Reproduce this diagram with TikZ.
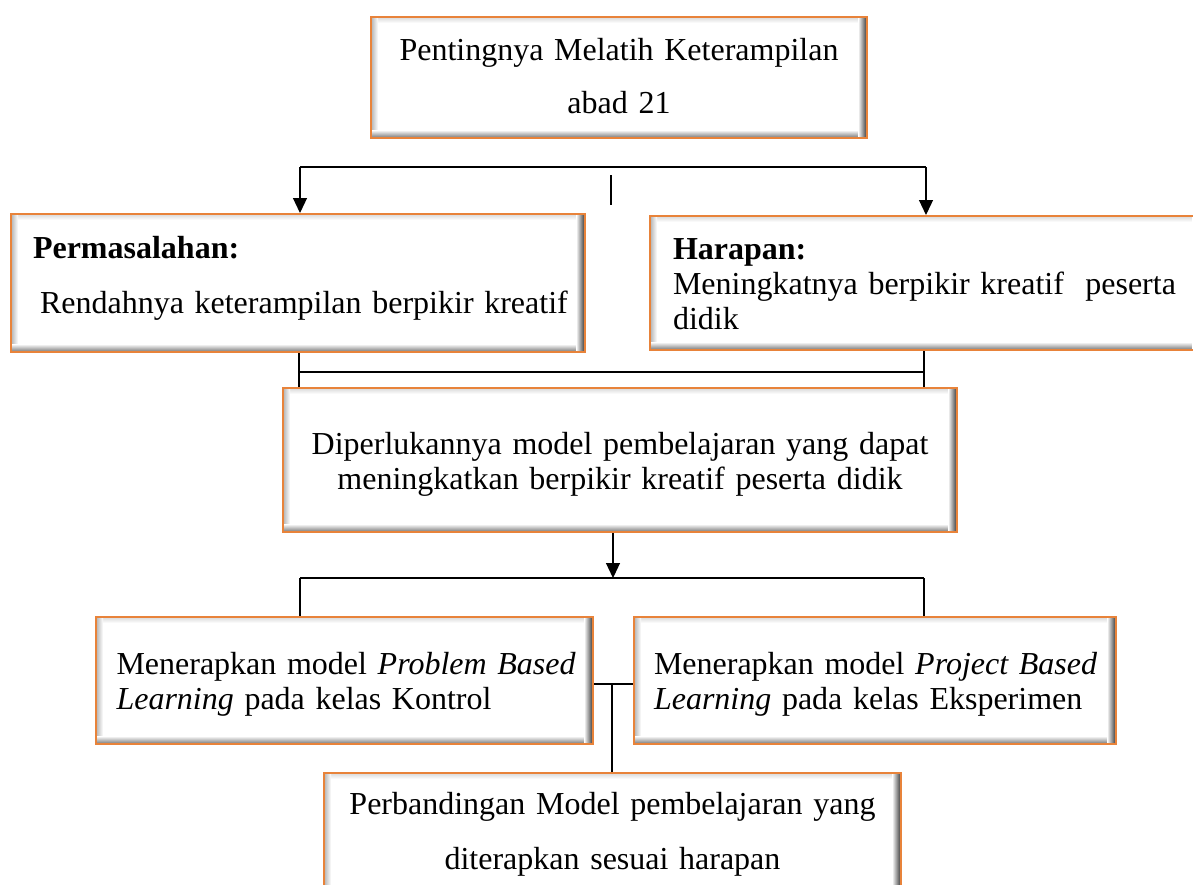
\documentclass[tikz,border=0pt]{standalone}
\usepackage{fontspec}
\setmainfont{Liberation Serif}
\usetikzlibrary{arrows.meta}
\definecolor{boxorange}{HTML}{E8833A}
\tikzset{
  bx/.style={rectangle, draw=boxorange, line width=2pt, fill=white, inner xsep=0pt, inner ysep=0pt,
    anchor=north west,
    path picture={
      \path (path picture bounding box.south west) coordinate (pbsw)
            (path picture bounding box.north east) coordinate (pbne);
      \shade[top color=black!15, bottom color=white] (pbsw |- pbne) rectangle ([yshift=-6pt]pbne);
      \shade[left color=black!30, right color=white] (pbsw) rectangle ([xshift=7pt]pbsw |- pbne);
      \shade[bottom color=black!55, top color=white] (pbsw) rectangle ([yshift=8pt]pbne |- pbsw);
      \shade[right color=black!80, left color=white] ([xshift=-9pt]pbne |- pbsw) rectangle (pbne);
    }},
  ln/.style={line width=1.2pt, black},
  arr/.style={ln, -{Triangle[width=14pt,length=15pt]}},
  fs/.style={font=\fontsize{32}{#1}\selectfont},
}
\begin{document}
\begin{tikzpicture}[x=1pt, y=-1pt]
\useasboundingbox (0,0) rectangle (1193,884);

\node[bx, minimum width=496pt, minimum height=121pt, text width=460pt, align=center,
      fs=53, text height=43pt, text depth=78pt] (top) at (370,16)
  {\mbox{Pentingnya Melatih Keterampilan}\\\mbox{abad 21}};

\node[bx, minimum width=574pt, minimum height=138pt, text width=530pt,
      fs=55, text height=44pt, text depth=94pt] (perm) at (10,213)
  {\mbox{\textbf{Permasalahan:}}\\\mbox{\kern7pt Rendahnya keterampilan berpikir kreatif}};

\node[bx, minimum width=551pt, minimum height=134pt, text width=505pt,
      fs=35.3, text height=43pt, text depth=91pt] (harap) at (649,215)
  {\mbox{\textbf{Harapan:}}\\\mbox{Meningkatnya berpikir kreatif\ \ peserta}\\\mbox{didik}};

\node[bx, minimum width=674pt, minimum height=144pt, text width=630pt, align=center,
      fs=35, text height=66pt, text depth=78pt] (dip) at (282,387)
  {\mbox{Diperlukannya model pembelajaran yang dapat}\\\mbox{meningkatkan berpikir kreatif peserta didik}};

\node[bx, minimum width=497pt, minimum height=127pt, text width=456pt,
      fs=35, text height=57pt, text depth=70pt] (pbl) at (95,616)
  {\mbox{Menerapkan model \textit{Problem Based}}\\\mbox{\textit{Learning} pada kelas Kontrol}};

\node[bx, minimum width=482pt, minimum height=127pt, text width=442pt,
      fs=35, text height=57pt, text depth=70pt] (pjbl) at (633,616)
  {\mbox{Menerapkan model \textit{Project Based}}\\\mbox{\textit{Learning} pada kelas Eksperimen}};

\node[bx, minimum width=577pt, minimum height=122pt, text width=540pt, align=center,
      fs=55, text height=41pt, text depth=81pt] (cmp) at (323,772)
  {\mbox{Perbandingan Model pembelajaran yang}\\\mbox{diterapkan sesuai harapan}};

% connectors
\coordinate (hL) at (300,167);
\coordinate (hR) at (926,167);
\draw[ln] (hL) -- (hR);
\draw[arr] (hL) -- (hL |- perm.north);
\draw[arr] (hR) -- (hR |- harap.north);
\coordinate (s1) at (611,175);
\coordinate (s2) at (611,205);
\draw[ln] (s1) -- (s2);

\coordinate (mL) at (299,372);
\coordinate (mR) at (924,372);
\draw[ln] (perm.south -| mL) -- (dip.north -| mL);
\draw[ln] (harap.south -| mR) -- (dip.north -| mR);
\draw[ln] (mL) -- (mR);

\coordinate (dA) at (613,578);
\draw[arr] (dip.south -| dA) -- (dA);
\coordinate (lL) at (300,578);
\coordinate (lR) at (924,578);
\draw[ln] (lL) -- (lR);
\draw[ln] (lL) -- (lL |- pbl.north);
\draw[ln] (lR) -- (lR |- pjbl.north);

\coordinate (bJ) at (612,684);
\draw[ln] (pbl.east |- bJ) -- (pjbl.west |- bJ);
\draw[ln] (bJ) -- (bJ |- cmp.north);
\end{tikzpicture}
\end{document}
